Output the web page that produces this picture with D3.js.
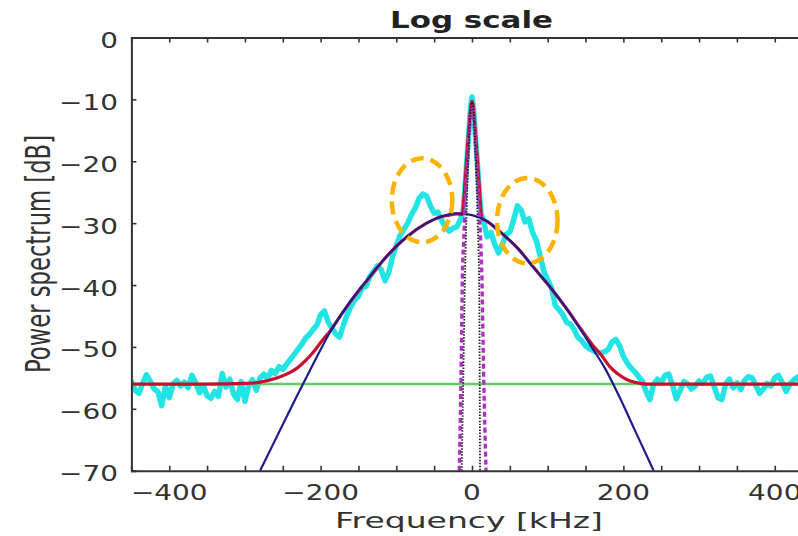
<!DOCTYPE html>
<html><head><meta charset="utf-8">
<script src="https://cdn.jsdelivr.net/npm/d3@7"></script>
<style>html,body{margin:0;padding:0;background:#fff;}svg{display:block;}</style>
</head><body>
<svg id="chart" width="798" height="536"></svg>
<script>
// ---------- data ----------
const titleText = "Log scale";
const xLabelText = "Frequency [kHz]";
const yLabelText = "Power spectrum [dB]";
const xDomain = [-450, 450];
const yDomain = [-70, 0];
const xTickLabels = [-400, -200, 0, 200, 400];
const xMinorTicks = [-400, -350, -300, -250, -200, -150, -100, -50, 0, 50, 100, 150, 200, 250, 300, 350, 400];
const yTickValues = [0, -10, -20, -30, -40, -50, -60, -70];

// measured spectrum (cyan)
const cyanF = [-450,-445,-440,-435,-430,-425,-420,-415,-410,-405,
  -400,-395,-390,-385,-380,-375,-370,-365,-360,-355,
  -350,-345,-340,-335,-330,-325,-320,-315,-310,-305,
  -300,-295,-290,-285,-280,-275,-270,-265,-260,-255,
  -250,-245,-240,-235,-230,-225,-220,-215,-210,-205,
  -200,-195,-190,-185,-180,-175,-170,-165,-160,-155,
  -150,-145,-140,-135,-130,-125,-120,-115,-110,-105,
  -100,-95,-90,-85,-80,-75,-70,-65,-60,-55,
  -50,-45,-40,-35,-30,-25,-20,-15,-12,-10,-8,-6,-4,-2,0,2,4,6,8,10,12,15,
  20,25,30,35,40,45,50,55,60,65,70,75,80,85,90,95,
  100,105,110,115,120,125,130,135,140,145,
  150,155,160,165,170,175,180,185,190,195,
  200,205,210,215,220,225,230,235,240,245,
  250,255,260,265,270,275,280,285,290,295,
  300,305,310,315,320,325,330,335,340,345,
  350,355,360,365,370,375,380,385,390,395,
  400,405,410,415,420,425,430,435,440,445,450];
const cyanDb = [-55.5,-57.0,-57.5,-55.8,-54.5,-55.6,-56.8,-57.2,-59.5,-56.4,
  -58.2,-56.0,-55.4,-56.3,-55.7,-56.6,-54.6,-55.8,-57.4,-56.2,
  -57.9,-58.3,-57.2,-58.0,-54.3,-56.5,-55.2,-57.6,-58.5,-55.6,
  -58.8,-56.2,-55.3,-57.0,-55.0,-54.4,-55.1,-53.8,-54.3,-53.2,
  -53.6,-52.8,-52.0,-51.2,-50.4,-49.6,-48.6,-48.0,-47.2,-46.5,
  -44.8,-44.2,-46.0,-47.0,-47.9,-48.4,-46.5,-44.8,-43.5,-42.4,
  -41.8,-40.4,-40.2,-38.6,-37.8,-36.9,-37.5,-39.3,-38.0,-35.4,
  -33.6,-32.0,-31.0,-30.0,-28.6,-27.6,-26.0,-25.3,-25.6,-27.2,
  -28.4,-28.2,-29.6,-30.6,-31.3,-30.8,-30.6,-29.3,-28.5,-25.5,-22.0,-18.5,-15.0,-11.5,-9.6,-11.5,-15.0,-18.5,-22.0,-25.5,-28.5,-29.5,
  -32.2,-31.5,-33.4,-34.8,-33.5,-31.8,-31.4,-29.5,-27.2,-27.9,-29.8,-29.3,-31.5,-32.8,-35.2,-37.8,
  -39.2,-40.4,-43.3,-44.0,-44.8,-46.0,-46.3,-47.2,-48.5,-49.0,
  -49.8,-50.3,-50.6,-50.9,-51.0,-50.8,-50.4,-49.2,-48.8,-49.8,
  -51.5,-52.6,-53.4,-54.0,-54.8,-55.5,-57.2,-58.5,-56.0,-55.2,
  -55.8,-54.6,-54.4,-56.2,-58.4,-57.0,-55.6,-56.0,-56.8,-56.3,
  -55.5,-55.9,-54.9,-54.7,-56.4,-58.2,-58.5,-56.0,-55.2,-56.6,
  -55.8,-56.9,-55.4,-54.8,-55.0,-56.2,-57.5,-56.8,-55.9,-56.3,
  -55.0,-54.6,-55.8,-57.2,-56.0,-55.3,-54.9,-56.4,-57.6,-55.8,-56.2];

// full fit (red)
const redF  = [-450,-350,-300,-280,-260,-245,-232,-220,-210,-200,-188,-175,-160,-139,-110,-86,-60,-42,-30,-20,-13,-11,-9,-7,-5,-3,-1.5,0,1.5,3,5,7,9,11,13,20,37,60,81,105,126,145,160,170,183,192,205,215,230,260,450];
const redDb = [-56.0,-56.0,-55.9,-55.7,-55.1,-54.4,-53.5,-52.2,-50.9,-49.3,-47.5,-45.2,-42.6,-39.3,-35.0,-32.2,-30.0,-29.0,-28.7,-28.5,-28.6,-26.5,-23.0,-19.5,-16.0,-13.0,-11.0,-10.3,-11.0,-13.0,-16.0,-19.5,-23.0,-26.8,-29.2,-29.7,-31.4,-34.0,-37.1,-40.6,-44.0,-47.3,-49.8,-51.2,-53.3,-54.3,-55.3,-55.7,-56.0,-56.0,-56.0];

// gaussian component (navy)
const blueF  = [-280,-255,-232,-210,-188,-160,-139,-110,-86,-60,-42,-20,0,20,37,60,81,105,126,145,160,175,193,215,240];
const blueDb = [-70.0,-63.8,-58.1,-52.8,-47.7,-42.5,-39.2,-35.0,-32.2,-30.0,-29.0,-28.4,-28.7,-29.7,-31.4,-34.0,-37.1,-40.6,-44.0,-47.5,-50.4,-53.3,-57.6,-63.4,-70.0];

// noise floor (green)
const floorDb = -56.0;

// narrow central components
const magentaF  = [-16.8,-14.5,-12.5,-11,-9,-6,-3,0,3,6,9,11.5,12.8,15.5,18.5];
const magentaDb = [-70,-55,-37.5,-33,-27,-20,-14,-11,-14,-20,-27,-33,-37.5,-55,-70];
const blackF  = [-13.6,-11.5,-9.5,-7.5,-5,-2.5,0,2.5,5,7.5,9.5,10.2,10.6];
const blackDb = [-70,-55,-40,-30,-20,-13,-10.5,-13,-20,-30,-40,-55,-70];

// annotation ellipses (centre f, centre dB, radius kHz, radius dB)
const ellipseF  = [-66, 73];
const ellipseDb = [-26.3, -29.6];
const ellipseRf = [40, 40];
const ellipseRdb = [6.8, 6.9];

// ---------- drawing ----------
const svg = d3.select("#chart");
const plot = {left: 131.4, right: 812.6, top: 37.5, bottom: 470.7};
const x = d3.scaleLinear().domain(xDomain).range([plot.left, plot.right]);
const y = d3.scaleLinear().domain(yDomain).range([plot.bottom, plot.top]);
const SX = 1.27; // horizontal stretch of the original picture
const font = "'DejaVu Sans', Verdana, sans-serif";
const axisColor = "#333";

const defs = svg.append("defs");
defs.append("clipPath").attr("id", "clip").append("rect")
  .attr("x", plot.left).attr("y", plot.top - 1)
  .attr("width", plot.right - plot.left).attr("height", plot.bottom - plot.top + 2);

const g = svg.append("g").attr("clip-path", "url(#clip)");

function pts(fs, ds) { return fs.map((f, i) => [f, ds[i]]); }
const lineLin = d3.line().x(d => x(d[0])).y(d => y(d[1]));
const lineSmooth = d3.line().x(d => x(d[0])).y(d => y(d[1])).curve(d3.curveMonotoneX);

// cyan measured
g.append("path").datum(pts(cyanF, cyanDb)).attr("d", lineLin)
  .attr("fill", "none").attr("stroke", "#22e4e4").attr("stroke-width", 5.5)
  .attr("stroke-linejoin", "round");
// green floor
g.append("path").datum([[xDomain[0], floorDb], [xDomain[1], floorDb]]).attr("d", lineLin)
  .attr("fill", "none").attr("stroke", "#66cc66").attr("stroke-width", 2.5);
// red fit
g.append("path").datum(pts(redF, redDb)).attr("d", lineSmooth)
  .attr("fill", "none").attr("stroke", "#c8102e").attr("stroke-width", 3.2);
// navy gaussian
g.append("path").datum(pts(blueF, blueDb)).attr("d", lineSmooth)
  .attr("fill", "none").attr("stroke", "#1d1d8c").attr("stroke-width", 2.2);
// magenta dashed
g.append("path").datum(pts(magentaF, magentaDb)).attr("d", lineSmooth)
  .attr("fill", "none").attr("stroke", "#b032c4").attr("stroke-width", 3.4)
  .attr("stroke-dasharray", "5 3");
// black dotted
g.append("path").datum(pts(blackF, blackDb)).attr("d", lineSmooth)
  .attr("fill", "none").attr("stroke", "#222").attr("stroke-width", 1.8)
  .attr("stroke-dasharray", "1.5 1.5");

// ellipses
ellipseF.forEach((f, i) => {
  svg.append("ellipse")
    .attr("cx", x(f)).attr("cy", y(ellipseDb[i]))
    .attr("rx", x(f + ellipseRf[i]) - x(f))
    .attr("ry", y(ellipseDb[i] - ellipseRdb[i]) - y(ellipseDb[i]))
    .attr("fill", "none").attr("stroke", "#fbb300").attr("stroke-width", 4.5)
    .attr("stroke-dasharray", "13 7");
});

// axes frame
const axG = svg.append("g");
const tickLen = 5;
const axisBottom = d3.axisBottom(x).tickValues(xMinorTicks).tickSize(-tickLen).tickFormat("");
const axisTop = d3.axisTop(x).tickValues(xMinorTicks).tickSize(-tickLen).tickFormat("");
const axisLeft = d3.axisLeft(y).tickValues(yTickValues).tickSize(-tickLen).tickFormat("");
axG.append("g").attr("transform", `translate(0,${plot.bottom})`).call(axisBottom);
axG.append("g").attr("transform", `translate(0,${plot.top})`).call(axisTop);
axG.append("g").attr("transform", `translate(${plot.left},0)`).call(axisLeft);
axG.selectAll(".domain").attr("stroke", axisColor).attr("stroke-width", 2);
axG.selectAll(".tick line").attr("stroke", axisColor).attr("stroke-width", 1.6);

// labels
function sText(px, py, str, anchor, size, weight) {
  return svg.append("text")
    .attr("transform", `translate(${px},${py}) scale(${SX},1)`)
    .attr("text-anchor", anchor)
    .attr("font-family", font).attr("font-size", size)
    .attr("font-weight", weight || "normal")
    .attr("fill", "#333").text(str);
}
const fmt = v => (v < 0 ? "\u2212" + Math.abs(v) : String(v));
xTickLabels.forEach(v => sText(x(v), 500, fmt(v), "middle", 22));
yTickValues.forEach(v => sText(118, y(v) + 10.5, fmt(v), "end", 22));

// title
svg.append("text").attr("x", 390).attr("y", 28)
  .attr("font-family", font).attr("font-size", 23).attr("font-weight", "bold")
  .attr("fill", "#222").attr("textLength", 163).attr("lengthAdjust", "spacingAndGlyphs")
  .text(titleText);
// x label
svg.append("text").attr("x", 335).attr("y", 528)
  .attr("font-family", font).attr("font-size", 22)
  .attr("fill", "#333").attr("textLength", 268).attr("lengthAdjust", "spacingAndGlyphs")
  .text(xLabelText);
// y label
svg.append("text")
  .attr("transform", "translate(50,373) rotate(-90) scale(1,1.55)")
  .attr("x", 0).attr("y", 0)
  .attr("font-family", font).attr("font-size", 22)
  .attr("fill", "#333").attr("textLength", 238).attr("lengthAdjust", "spacingAndGlyphs")
  .text(yLabelText);
</script>
</body></html>
